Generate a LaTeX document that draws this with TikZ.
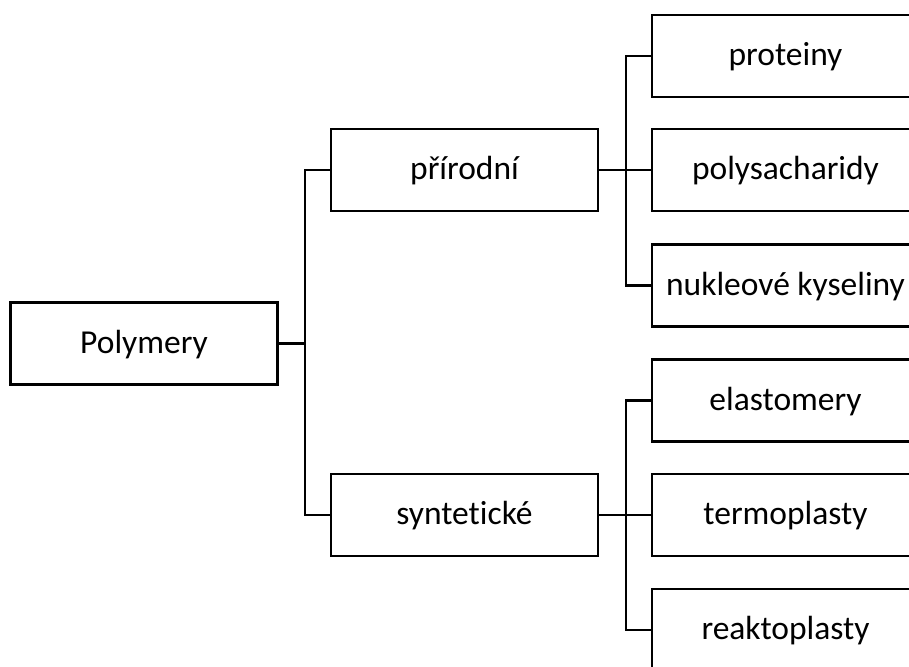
\documentclass[tikz,border=0pt]{standalone}
\usepackage{fontspec}
\setmainfont[Ligatures=NoCommon]{Carlito}
\usetikzlibrary{positioning}

\begin{document}
\begin{tikzpicture}[
		x=1pt, y=-1pt,
		line width=2.8pt,
		box/.style={rectangle, draw=black, fill=white, inner sep=0pt, minimum width=267pt, minimum height=82pt, text height=25pt, text depth=6pt, font=\fontsize{33.5}{40}\selectfont}
		]
		\useasboundingbox (0,0) rectangle (909,666);
		\clip (0,0) rectangle (909,666);
		\node (polymery) at (144, 343.5) [box] {Polymery};
		\node (prirodni) at (464.5, 170) [box] {přírodní};
		\node (synteticke) at (464.5, 515) [box] {syntetické};
		\node (proteiny) at (785.5, 56) [box] {proteiny};
		\node (polysacharidy) at (785.5, 170) [box] {polysacharidy};
		\node (nukleove) at (785.5, 285.5) [box] {nukleové kyseliny};
		\node (elastomery) at (785.5, 400.5) [box] {elastomery};
		\node (termoplasty) at (785.5, 515) [box] {termoplasty};
		\node (reaktoplasty) at (785.5, 630) [box] {reaktoplasty};
		\coordinate (split) at (305, 343.5);
		\coordinate (split 1) at (626, 170);
		\coordinate (split 2) at (626, 515);
		\draw (polymery.east) -- (split);
		\draw (prirodni.west) -| (split) |- (synteticke.west);
		\draw (prirodni.east) -- (polysacharidy.west);
		\draw (proteiny.west) -| (split 1) |- (nukleove.west);
		\draw (synteticke.east) -- (termoplasty.west);
		\draw (elastomery.west) -| (split 2) |- (reaktoplasty.west);
	\end{tikzpicture}
\end{document}
